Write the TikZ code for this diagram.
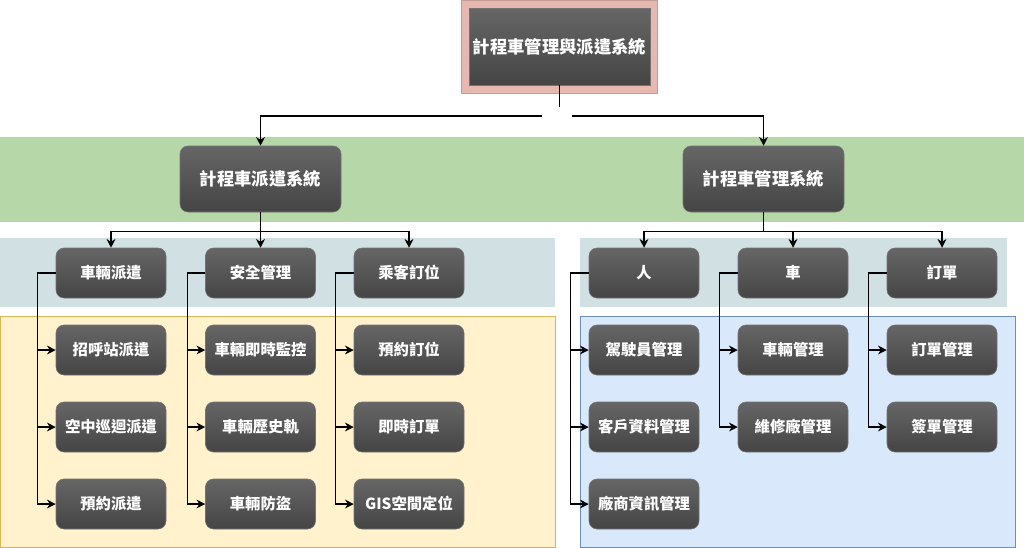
\documentclass[tikz,border=0pt]{standalone}
\usepackage{fontspec}
\newfontfamily\cjk{Noto Sans CJK TC}
\usetikzlibrary{arrows.meta}

\definecolor{bandgreen}{HTML}{B6D7A8}
\definecolor{bandgray}{HTML}{D0E0E3}
\definecolor{topred}{HTML}{E6B8AF}
\definecolor{yelfill}{HTML}{FFF2CC}
\definecolor{yeldraw}{HTML}{D6B656}
\definecolor{bluefill}{HTML}{DAE8FC}
\definecolor{bluedraw}{HTML}{6C8EBF}

\tikzset{
  darkbox/.style={top color=black!60, bottom color=black!73, draw=black!55, text=white, inner sep=0pt},
  bigbox/.style={darkbox, rounded corners=6pt, minimum width=120.75pt, minimum height=49.5pt, font=\cjk\bfseries\fontsize{13}{15}\selectfont},
  leaf/.style={darkbox, rounded corners=6pt, minimum width=82.5pt, minimum height=37.5pt, font=\cjk\bfseries\fontsize{11.5}{13}\selectfont},
  arr/.style={-{Stealth[length=6.5pt,width=6.5pt]}, line width=1pt},
}

\begin{document}
\begin{tikzpicture}[x=0.75pt,y=-0.75pt]
    \useasboundingbox (0,0) rectangle (1024,547);
    % bands
    \fill[bandgreen] (0,137) rectangle (1024,222);
    \fill[bandgray] (0,238) rectangle (555,307);
    \fill[bandgray] (580,238) rectangle (1007,307);
    \draw[yeldraw, fill=yelfill] (0,316) rectangle (555,547);
    \draw[bluedraw, fill=bluefill] (580,316) rectangle (1015,547);
    \draw[topred!85!black, fill=topred] (461,0) rectangle (657,93);

    % top
    \node[darkbox, minimum width=135.75pt, minimum height=57.75pt, font=\cjk\bfseries\fontsize{13}{15}\selectfont] (top) at (559.5,46.5) {計程車管理與派遣系統};
    \node[bigbox] (disp) at (260.5,179) {計程車派遣系統};
    \node[bigbox] (mgmt) at (763.5,179) {計程車管理系統};

    % second row
    \foreach \n/\x/\t in {l1/111/車輛派遣, l2/260.5/安全管理, l3/409/乘客訂位, r1/644/人, r2/793/車, r3/942/訂單}
    \node[leaf] (\n) at (\x,273) {\t};

    % leaves
    \foreach \n/\x/\y/\t in {l1-1/111/350/招呼站派遣, l1-2/111/427/空中巡迴派遣, l1-3/111/504/預約派遣,
                             l2-1/260.5/350/車輛即時監控, l2-2/260.5/427/車輛歷史軌, l2-3/260.5/504/車輛防盜,
                             l3-1/409/350/預約訂位, l3-2/409/427/即時訂單, l3-3/409/504/GIS空間定位,
                             r1-1/644/350/駕駛員管理, r1-2/644/427/客戶資料管理, r1-3/644/504/廠商資訊管理,
                             r2-1/793/350/車輛管理, r2-2/793/427/維修廠管理,
                             r3-1/942/350/訂單管理, r3-2/942/427/簽單管理}
    \node[leaf] (\n) at (\x,\y) {\t};

    % connectors
    \draw[line width=1pt] (top.south) -- ++(0,22);
    \coordinate (jl) at (542,116);
    \coordinate (jr) at (572,116);
    \draw[arr] (jl) -| (disp.north);
    \draw[arr] (jr) -| (mgmt.north);
    \draw[line width=1pt] (disp.south) -- ++(0,19) coordinate (dj);
    \draw[line width=1pt] (mgmt.south) -- ++(0,19) coordinate (mj);
    \foreach \n in {l1,l2,l3}
    \draw[arr] (dj) -| (\n.north);
    \foreach \n in {r1,r2,r3}
    \draw[arr] (mj) -| (\n.north);
    \foreach \p/\k in {l1/1,l1/2,l1/3,l2/1,l2/2,l2/3,l3/1,l3/2,l3/3,r1/1,r1/2,r1/3,r2/1,r2/2,r3/1,r3/2}
    \draw[arr] (\p.west) -- ++(-18,0) |- (\p-\k.west);
  \end{tikzpicture}
\end{document}
